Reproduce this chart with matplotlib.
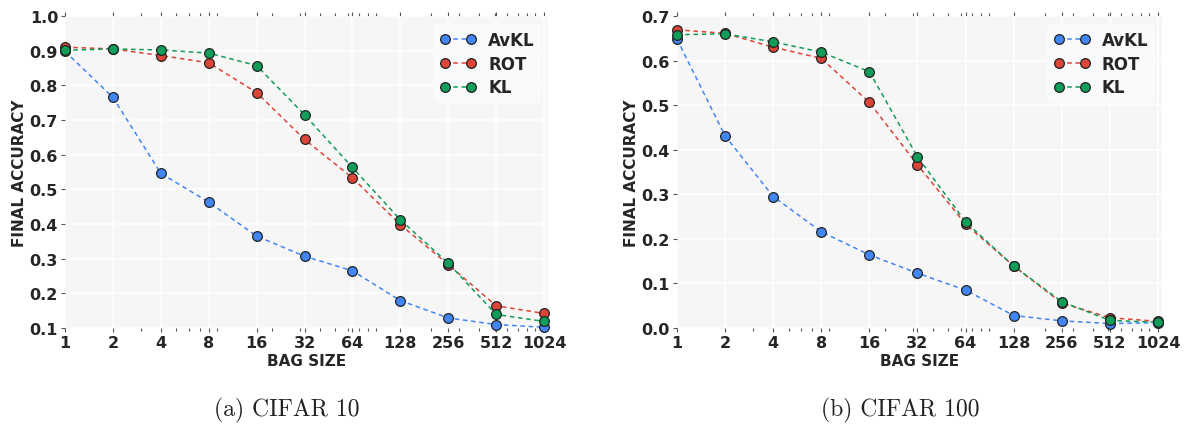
import matplotlib
matplotlib.use("Agg")
import matplotlib.pyplot as plt
from matplotlib.ticker import FixedLocator, FixedFormatter, NullFormatter, LogLocator

bag_sizes = [1, 2, 4, 8, 16, 32, 64, 128, 256, 512, 1024]
tick_labels = ["1", "2", "4", "8", "16", "32", "64", "128", "256", "512", "1024"]

# CIFAR 10
c10_avkl = [0.898, 0.765, 0.546, 0.463, 0.365, 0.307, 0.265, 0.179, 0.129, 0.110, 0.102]
c10_rot = [0.910, 0.905, 0.886, 0.865, 0.779, 0.644, 0.533, 0.398, 0.283, 0.164, 0.142]
c10_kl = [0.901, 0.905, 0.902, 0.893, 0.857, 0.715, 0.563, 0.412, 0.287, 0.139, 0.119]

# CIFAR 100
c100_avkl = [0.648, 0.431, 0.295, 0.216, 0.164, 0.123, 0.085, 0.028, 0.016, 0.010, 0.012]
c100_rot = [0.669, 0.661, 0.630, 0.605, 0.506, 0.366, 0.233, 0.139, 0.056, 0.023, 0.015]
c100_kl = [0.658, 0.660, 0.642, 0.619, 0.575, 0.384, 0.238, 0.139, 0.059, 0.017, 0.013]

series_names = ["AvKL", "ROT", "KL"]
colors = ["#4285F4", "#DB4437", "#0F9D58"]
text_col = "#262626"

plt.rcParams['font.family'] = ['DejaVu Sans']
plt.rcParams['font.weight'] = 'bold'

fig = plt.figure(figsize=(11.85, 4.27), dpi=100)
ax1 = fig.add_axes([0.0549, 0.2295, 0.4076, 0.7307])
ax2 = fig.add_axes([0.5713, 0.2295, 0.4093, 0.7307])


def draw(ax, data, ylim, yticks):
    ax.set_facecolor("#f6f6f6")
    for s in ax.spines.values():
        s.set_visible(False)
    for vals, name, c in zip(data, series_names, colors):
        ax.plot(bag_sizes, vals, linestyle="--", dashes=(3, 2.4), lw=1.1, color=c,
                marker="o", ms=7, mfc=c, mec="#222222", mew=0.9, label=name,
                clip_on=False, zorder=3)
    ax.set_xscale("log")
    ax.set_xlim(1, 1085)
    ax.set_ylim(*ylim)
    ax.xaxis.set_major_locator(FixedLocator(bag_sizes))
    ax.xaxis.set_major_formatter(FixedFormatter(tick_labels))
    ax.xaxis.set_minor_locator(LogLocator(base=10, subs=range(2, 10)))
    ax.xaxis.set_minor_formatter(NullFormatter())
    ax.set_yticks(yticks)
    ax.set_yticklabels(["%.1f" % v for v in yticks])
    ax.grid(True, which="major", color="white", lw=1.1, zorder=0)
    ax.set_axisbelow(True)
    ax.tick_params(axis="both", which="both", colors="#555555", labelcolor=text_col,
                   labelsize=11.5, length=3, width=0.8, pad=2)
    ax.tick_params(axis="x", which="both", top=True, bottom=True)
    ax.tick_params(axis="x", which="minor", length=2.5)
    for lbl in ax.get_xticklabels() + ax.get_yticklabels():
        lbl.set_fontweight("bold")
    ax.set_xlabel("BAG SIZE", fontsize=11, fontweight="bold", color=text_col, labelpad=2)
    ax.set_ylabel("FINAL ACCURACY", fontsize=11, fontweight="bold", color=text_col, labelpad=2)
    leg = ax.legend(loc="upper right", numpoints=2, fontsize=12, frameon=True,
                    fancybox=True, borderpad=0.4, handlelength=2.2, labelspacing=0.35,
                    handletextpad=0.7, borderaxespad=0,
                    bbox_to_anchor=(0.986, 0.974))
    leg.get_frame().set_facecolor("#f9fafc")
    leg.get_frame().set_edgecolor("none")
    leg.get_frame().set_alpha(1)
    for t in leg.get_texts():
        t.set_color(text_col)
        t.set_fontweight("bold")


draw(ax1, [c10_avkl, c10_rot, c10_kl], (0.1, 1.0), [0.1, 0.2, 0.3, 0.4, 0.5, 0.6, 0.7, 0.8, 0.9, 1.0])
draw(ax2, [c100_avkl, c100_rot, c100_kl], (0.0, 0.7), [0.0, 0.1, 0.2, 0.3, 0.4, 0.5, 0.6, 0.7])

fig.text(287 / 1185, 1 - 410 / 427, "(a) CIFAR 10", family="cmr10", fontsize=17,
         ha="center", va="center", color="#222222", fontweight="normal")
fig.text(900 / 1185, 1 - 410 / 427, "(b) CIFAR 100", family="cmr10", fontsize=17,
         ha="center", va="center", color="#222222", fontweight="normal")

fig.savefig("out.png", dpi=100)
